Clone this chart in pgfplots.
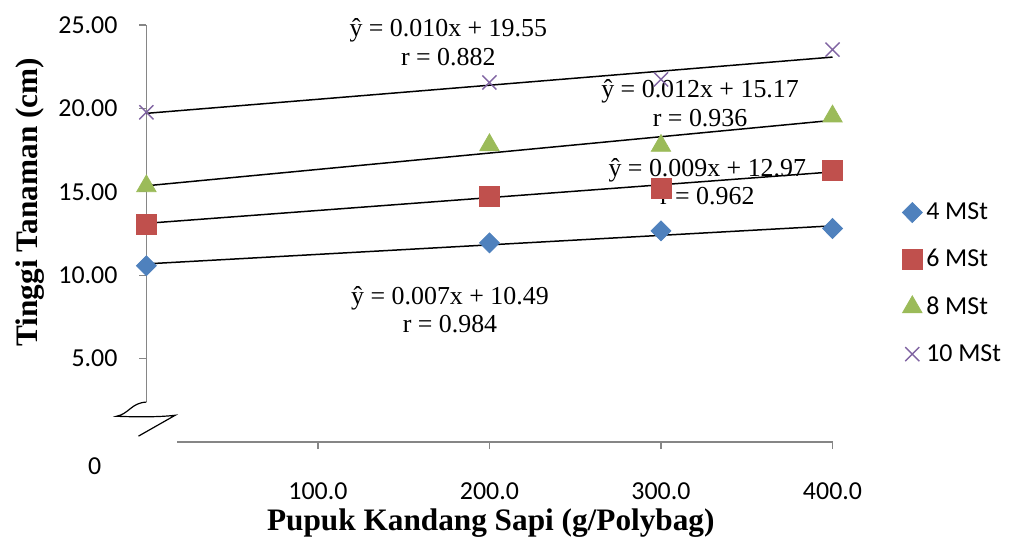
\documentclass[border=0pt]{standalone}
\usepackage{pgfplots}
\pgfplotsset{compat=1.18}
\usepackage{fontspec}
\setmainfont{Liberation Serif}
\newfontfamily\calibri{Carlito}
\definecolor{s4}{HTML}{4F81BD}
\definecolor{s6}{HTML}{C0504D}
\definecolor{s8}{HTML}{9BBB59}
\definecolor{s10}{HTML}{8064A2}
\definecolor{axgray}{HTML}{868686}
\newcommand\tickfont{\calibri\fontsize{13}{14.5}\selectfont}
\newcommand\eqfont{\fontsize{13}{14.25}\selectfont}
\newcommand\titlefont{\bfseries\fontsize{15.7}{18}\selectfont}
\begin{document}
\begin{tikzpicture}
\begin{axis}[
  scale only axis, width=344.5pt, height=209.5pt,
  xmin=0, xmax=400, ymin=0, ymax=25,
  axis x line=bottom, axis y line=left,
  axis line style={draw=none,-},
  clip=false,
  xtick={100,200,300,400}, ytick={5,10,15,20,25},
  tick align=outside, major tick length=3.5pt,
  tick style={color=axgray, line width=0.7pt},
  /pgf/number format/assume math mode=true,
  ticklabel style={font=\tickfont},
  xticklabel={\pgfmathprintnumber[fixed,fixed zerofill,precision=1]{\tick}},
  yticklabel={\pgfmathprintnumber[fixed,fixed zerofill,precision=2]{\tick}},
  xticklabel style={yshift=-13.5pt},
  yticklabel style={xshift=-7.5pt},
  xlabel={Pupuk Kandang Sapi (g/Polybag)},
  ylabel={Tinggi Tanaman (cm)},
  every axis x label/.style={at={(axis description cs:0.502,-0.193)}, anchor=center, font=\titlefont},
  every axis y label/.style={at={(axis description cs:-0.17,0.575)}, rotate=90, anchor=center, font=\titlefont},
  legend style={at={(axis cs:437,14.85)}, anchor=north west, draw=none, fill=none,
    font=\tickfont, row sep=9.5pt, legend cell align=left,
    /tikz/every even column/.style={column sep=2pt}},
  legend image code/.code={\draw[#1] plot coordinates {(0pt,0pt)};},
]
% axis lines with break
\draw[axgray, line width=0.75pt] (axis cs:0,2.4) -- (axis cs:0,25);
\draw[axgray, line width=0.75pt] (axis cs:18,0) -- (axis cs:400,0);
\draw[black, line width=0.6pt] (axis cs:0,2.4) .. controls (axis cs:-9,2.35) and (axis cs:-10,1.7) .. (axis cs:-17.4,1.55)
  .. controls (axis cs:-5,1.5) and (axis cs:8,1.5) .. (axis cs:16.8,1.61) -- (axis cs:-4.6,0.36);
\node[font=\tickfont] at (axis cs:-30.2,-1.43) {0};

% trend lines
\addplot[black, line width=0.75pt, forget plot] coordinates {(0,10.68)(400,12.96)};
\addplot[black, line width=0.75pt, forget plot] coordinates {(0,13.11)(400,16.19)};
\addplot[black, line width=0.75pt, forget plot] coordinates {(0,15.36)(400,19.28)};
\addplot[black, line width=0.75pt, forget plot] coordinates {(0,19.70)(400,23.07)};

% observations
\addplot[only marks, mark=diamond*, color=s4, mark options={xscale=1.33}, mark size=5pt]
  coordinates {(0,10.57)(200,11.94)(300,12.66)(400,12.80)};
\addlegendentry{4 MSt}
\addplot[only marks, mark=square*, color=s6, mark size=5pt]
  coordinates {(0,13.07)(200,14.75)(300,15.22)(400,16.30)};
\addlegendentry{6 MSt}
\addplot[only marks, mark=triangle*, color=s8, mark size=5.6pt]
  coordinates {(0,15.34)(200,17.80)(300,17.76)(400,19.52)};
\addlegendentry{8 MSt}
\addplot[only marks, mark=x, color=s10, mark size=5pt, line width=0.7pt]
  coordinates {(0,19.76)(200,21.55)(300,21.73)(400,23.52)};
\addlegendentry{10 MSt}

% regression annotations
\node[font=\eqfont, align=center] at (axis cs:176,23.97) {ŷ = 0.010x + 19.55\\r = 0.882};
\node[font=\eqfont, align=center] at (axis cs:322.8,20.3) {ŷ = 0.012x + 15.17\\r = 0.936};
\node[font=\eqfont, align=center] at (axis cs:327,15.6) {ŷ = 0.009x + 12.97\\r = 0.962};
\node[font=\eqfont, align=center] at (axis cs:177,7.94) {ŷ = 0.007x + 10.49\\r = 0.984};
\end{axis}
\path[use as bounding box] (-73.5pt,-46.5pt) rectangle (432pt,222pt);
\end{tikzpicture}
\end{document}
